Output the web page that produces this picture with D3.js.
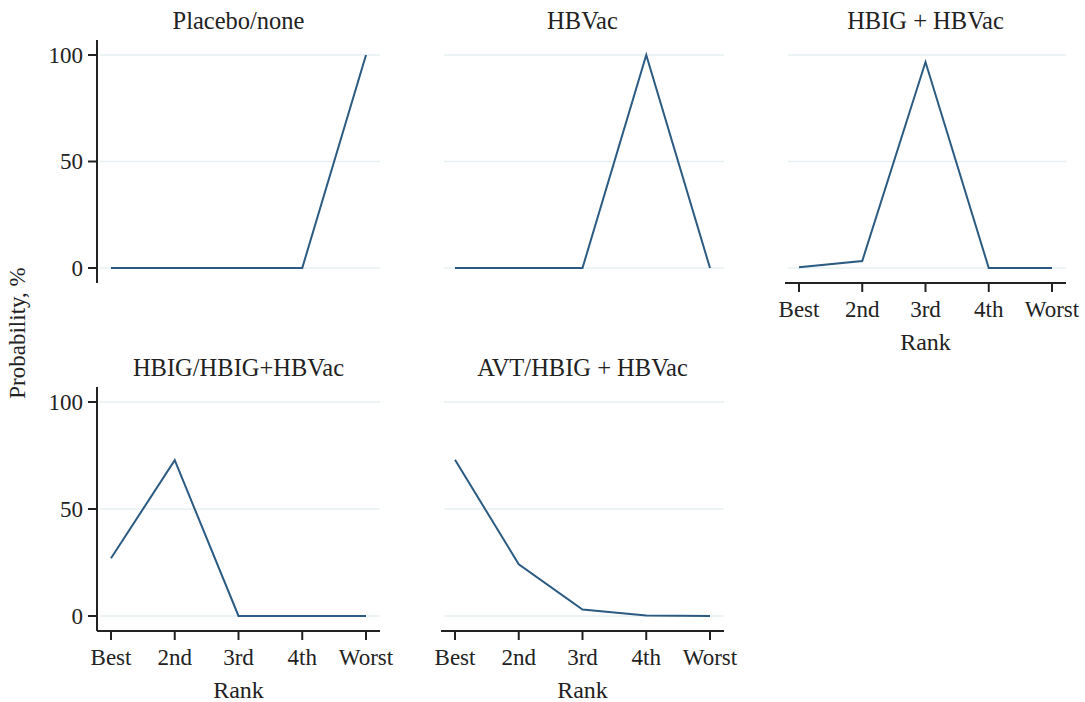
<!DOCTYPE html>
<html>
<head>
<meta charset="utf-8">
<script src="https://d3js.org/d3.v7.min.js"></script>
<style>
  body { margin: 0; background: #fff; }
  svg text { font-family: "Liberation Serif", "DejaVu Serif", serif; fill: #222; }
</style>
</head>
<body>
<script>
// ranks and probabilities (%) per treatment
const ranks = ['Best', '2nd', '3rd', '4th', 'Worst'];
const yTicks = [0, 50, 100];
const titles = ['Placebo/none', 'HBVac', 'HBIG + HBVac', 'HBIG/HBIG+HBVac', 'AVT/HBIG + HBVac'];
const placebo = [0, 0, 0, 0, 100];
const hbvac = [0, 0, 0, 100, 0];
const hbigHbvac = [0.3, 3.3, 96.7, 0, 0];
const hbigOrBoth = [27, 72.8, 0, 0, 0];
const avt = [73, 24.2, 3, 0.2, 0];
const series = [placebo, hbvac, hbigHbvac, hbigOrBoth, avt];

// layout: column x ranges, row y ranges, which axes each panel shows
const cols = [[111, 366], [455, 710], [799, 1052]];
const rows = [[268, 55], [616, 402]];
const panels = [
  { col: 0, row: 0, yAxis: true,  xAxis: false },
  { col: 1, row: 0, yAxis: false, xAxis: false },
  { col: 2, row: 0, yAxis: false, xAxis: true },
  { col: 0, row: 1, yAxis: true,  xAxis: true },
  { col: 1, row: 1, yAxis: false, xAxis: true }
];

const W = 1085, H = 702;
const lineColor = '#2b5b82';

const svg = d3.select('body').append('svg')
  .attr('width', W).attr('height', H);

panels.forEach((p, i) => {
  const x = d3.scalePoint().domain(ranks).range(cols[p.col]);
  const y = d3.scaleLinear().domain([0, 100]).range(rows[p.row]);
  const g = svg.append('g');
  const [x0, x1] = cols[p.col];
  const left = x0 - 14, right = x1 + 14;
  const bottom = y(0) + 15, top = y(100) - 15;

  // gridlines
  g.selectAll('line.grid').data(yTicks).join('line')
    .attr('x1', x0 - 11).attr('x2', x1 + 14)
    .attr('y1', d => y(d)).attr('y2', d => y(d))
    .attr('stroke', '#e6f0f2').attr('stroke-width', 1.5);

  // title
  g.append('text')
    .attr('x', (x0 + x1) / 2).attr('y', top - 11)
    .attr('text-anchor', 'middle')
    .style('font-size', '24.5px')
    .text(titles[i]);

  if (p.yAxis) {
    g.append('line')
      .attr('x1', left).attr('x2', left)
      .attr('y1', top).attr('y2', bottom)
      .attr('stroke', '#222').attr('stroke-width', 2);
    g.selectAll('line.yt').data(yTicks).join('line')
      .attr('x1', left - 9).attr('x2', left)
      .attr('y1', d => y(d)).attr('y2', d => y(d))
      .attr('stroke', '#222').attr('stroke-width', 2);
    g.selectAll('text.yl').data(yTicks).join('text')
      .attr('x', left - 14).attr('y', d => y(d))
      .attr('text-anchor', 'end').attr('dominant-baseline', 'central')
      .style('font-size', '23px')
      .text(d => d);
  }

  if (p.xAxis) {
    g.append('line')
      .attr('x1', left).attr('x2', right)
      .attr('y1', bottom).attr('y2', bottom)
      .attr('stroke', '#222').attr('stroke-width', 2);
    g.selectAll('line.xt').data(ranks).join('line')
      .attr('x1', d => x(d)).attr('x2', d => x(d))
      .attr('y1', bottom).attr('y2', bottom + 9)
      .attr('stroke', '#222').attr('stroke-width', 2);
    g.selectAll('text.xl').data(ranks).join('text')
      .attr('x', d => x(d)).attr('y', bottom + 34)
      .attr('text-anchor', 'middle')
      .style('font-size', '23px')
      .text(d => d);
    g.append('text')
      .attr('x', (x0 + x1) / 2).attr('y', bottom + 67)
      .attr('text-anchor', 'middle')
      .style('font-size', '24px')
      .text('Rank');
  }

  const line = d3.line().x((d, j) => x(ranks[j])).y(d => y(d));
  g.append('path')
    .datum(series[i])
    .attr('d', line)
    .attr('fill', 'none')
    .attr('stroke', lineColor)
    .attr('stroke-width', 2);
});

svg.append('text')
  .attr('transform', 'translate(25,333) rotate(-90)')
  .attr('text-anchor', 'middle')
  .style('font-size', '23px')
  .text('Probability, %');
</script>
</body>
</html>
